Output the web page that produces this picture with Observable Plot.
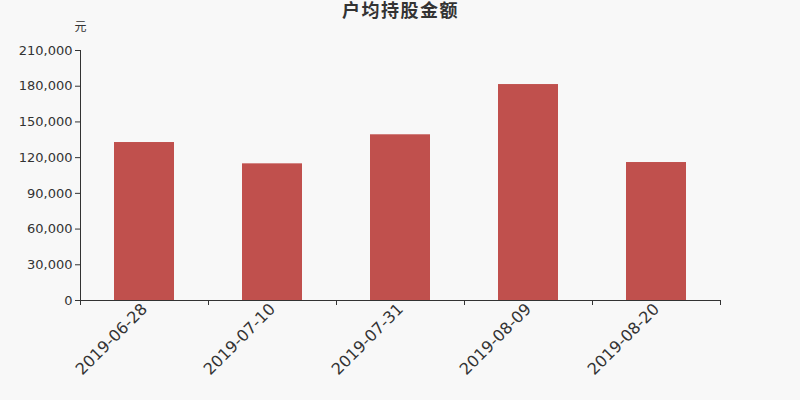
<!DOCTYPE html>
<html>
<head>
<meta charset="utf-8">
<script src="https://cdn.jsdelivr.net/npm/d3@7"></script>
<script src="https://cdn.jsdelivr.net/npm/@observablehq/plot@0.6"></script>
<style>
  html, body { margin: 0; padding: 0; background: #f8f8f8; }
  #chart { width: 800px; height: 400px; }
</style>
</head>
<body>
<div id="chart"></div>
<script>
const title = "户均持股金额";
const unit = "元";
const dates = ["2019-06-28", "2019-07-10", "2019-07-31", "2019-08-09", "2019-08-20"];
const values = [132700, 114800, 139200, 181400, 115900];
const yTicks = [0, 30000, 60000, 90000, 120000, 150000, 180000, 210000];

const data = dates.map((d, i) => ({date: d, value: values[i]}));
const fmt = d3.format(",");
const font = "'DejaVu Sans', 'Noto Sans CJK SC', sans-serif";

const chart = Plot.plot({
  width: 800,
  height: 400,
  marginLeft: 80,
  marginRight: 80,
  marginTop: 50,
  marginBottom: 100,
  style: {background: "#f8f8f8", fontFamily: font, color: "#333"},
  x: {domain: dates, paddingInner: 0, paddingOuter: 0},
  y: {domain: [0, 210000]},
  marks: [
    Plot.barY(data, {x: "date", y: "value", fill: "#c0504d", insetLeft: 34, insetRight: 34}),
    Plot.axisY({ticks: yTicks, tickFormat: fmt, tickSize: 5, tickPadding: 3, fontSize: 13, stroke: "#333", fill: "#333", label: null}),
    Plot.frame({anchor: "left", stroke: "#333"}),
    Plot.ruleY([0], {stroke: "#333"}),
    Plot.axisX({tickSize: 0, tickRotate: -45, fontSize: 16, tickPadding: 6, fill: "#333", label: null}),
    Plot.ruleX(dates, {x: d => d, dx: -64, insetTop: 250, insetBottom: -5, stroke: "#333"}),
    Plot.ruleX([dates[dates.length - 1]], {x: d => d, dx: 64, insetTop: 250, insetBottom: -5, stroke: "#333"}),
    Plot.text([title], {frameAnchor: "top", dy: -46, text: d => d, fontSize: 18, fontWeight: "bold", fill: "#333", fontFamily: font}),
    Plot.text([unit], {frameAnchor: "top-left", dy: -28, text: d => d, fontSize: 12, fill: "#333", textAnchor: "middle", fontFamily: font})
  ]
});
d3.select(chart).selectAll("text").filter(function() { return this.textContent === title; })
  .attr("letter-spacing", "1.5px");
document.getElementById("chart").appendChild(chart);
</script>
</body>
</html>
